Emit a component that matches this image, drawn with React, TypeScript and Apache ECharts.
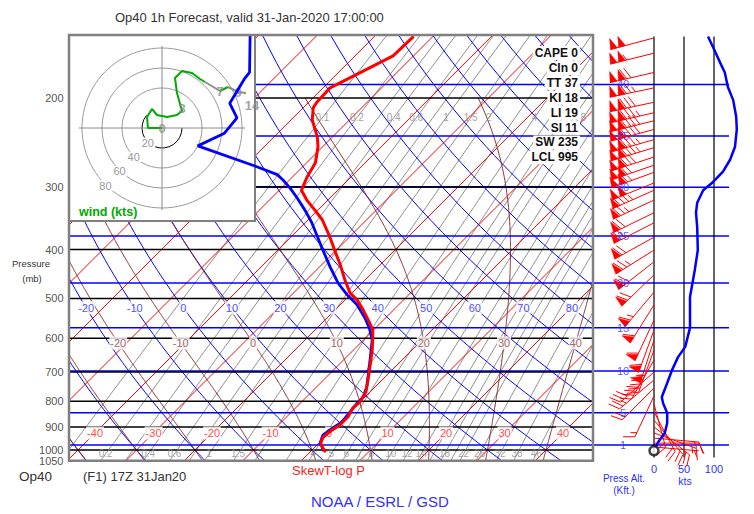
import React, { useEffect, useRef } from 'react';
import * as echarts from 'echarts';

const FONT = '"Liberation Sans", Arial, Helvetica, sans-serif';

// ---------------- sounding values ----------------
const tempP = [151,165,178,191,204,209,221,239,250,269,287,305,319,334,349,378,401,429,460,488,504,527,560,578,597,633,684,726,767,803,825,860,892,913,942,969,991,1009];
const tempC = [-53.3,-53.5,-56.2,-58.8,-58.6,-58.3,-56.4,-52.6,-50.8,-48.5,-47.5,-46.2,-43.6,-40.5,-37.6,-33.3,-30.3,-26.8,-23.4,-20.3,-17.9,-15.2,-11.8,-10.1,-8.9,-6.8,-4.3,-2.4,-0.7,0.0,-0.2,0.5,0.5,0.0,-0.3,0.3,1.5,2.7];
const dewP = [150,178,183,205,219,235,249,273,284,291,302,316,334,353,378,401,433,466,492,515,547,570,578,605,672,750,785,807,840,880,904,934,969,986,1005];
const dewC = [-81.5,-75.2,-75.0,-73.3,-69.6,-69.1,-71.5,-58.3,-53.0,-51.1,-48.5,-45.6,-42.2,-39.0,-35.4,-32.3,-28.2,-24.1,-20.5,-17.1,-13.5,-11.3,-10.6,-8.5,-5.0,-1.4,-0.3,-0.3,0.0,0.3,-0.2,-0.7,0.2,1.2,2.2];

// wind speed profile (kts)
const windSpdP = [151,162,170,178,190,202,218,231,250,265,280,294,305,323,338,361,401,439,497,572,624,654,694,736,785,807,844,884,925,964,991];
const windSpdKt = [90,102,110,118,123,132,137,138,135,127,115,98,82,72,70,72,73,68,60,60,52,40,30,22,13,15,22,22,18,7,2];

// wind barbs
const barbP = [152,163,178,191,204,214,222,231,242,251,262,272,281,295,305,319,338,354,378,401,423,449,486,515,552,578,605,633,663,700,726,753,781,810,840,872,900,925,947,969,986];
const barbDir = [255,256,257,258,258,257,256,255,254,253,252,251,250,248,246,245,244,243,241,238,232,226,220,212,205,200,198,200,210,228,230,225,205,165,152,140,128,110,95,90,95];
const barbKt = [100,105,118,125,132,136,138,138,137,135,128,120,113,98,84,75,70,72,72,73,72,68,63,62,60,58,54,46,38,29,24,19,14,16,21,22,21,17,13,8,4];
const calmP = [1003];

// hodograph (u, v in kts)
const hodoU = [0,-14,-15,-10,-5,5,15,20,15,13,20,30,38,43,58,66,76,85,90];
const hodoV = [0,0,11,19,13,11,13,17,35,50,57,55,49,46,37,41,36,35,28];
const hodoLabels = ['0','3','7','9','14'];
const hodoLabelIdx = [0,7,14,16,18];
const hodoRings = [40,60,80];
const hodoRingLabels = ['20','40','60','80'];

// indices
const indexTexts = ['CAPE 0','CIn 0','TT 37','KI 18','LI 19','SI 11','SW 235','LCL 995'];

// diagram reference lines
const pressureLines = [200,300,400,500,600,700,800,900,1000];
const pressureTicks = [200,300,400,500,600,700,800,900,1000,1050];
const altKft = [1,5,10,15,20,25,30,35,40];
const altP = [977,843,697,572,466,376,301,238,188];
const isotherms = [-110,-100,-90,-80,-70,-60,-50,-40,-30,-20,-10,0,10,20,30,40];
const isoLabels = [-40,-30,-20,-10,0,10,20,30,40];
const dryTheta = [-40,-30,-20,-10,0,10,20,30,40,50,60,70,80,90,100,110,120,130,140,150,160];
const dryLabels = [-20,-10,0,10,20,30,40,50,60,70,80];
const moistTw = [-40,-30,-20,-10,0,10,20,30,40];
const moistLabels = [-20,-10,0,10,20,30,40];
const mixW = [0.1,0.2,0.3,0.4,0.6,0.8,1,1.5,2,3,4,5,6,7,8,10,12,14,16,18,20,22,26,32,38,46];
const mixLabelsLow = [0.2,0.4,0.6,1,1.5,2,4,5,6,7,8,10,12,14,18,22,26,32,38,46];
const mixLabelsHigh = [0.1,0.2,0.4,0.6,1,1.5,2,4,8];

// ---------------- thermodynamics for the diagram background ----------------
const PX_PER_C = 5.85;
const PX_PER_LN = 218.7;
const K = PX_PER_LN / PX_PER_C;
const skewX = (t: number, p: number) => t + K * Math.log(1000 / p);
const es = (tc: number) => 6.112 * Math.exp((17.67 * tc) / (tc + 243.5));
const tdFromW = (w: number, p: number) => {
  const e = (w * p) / (622 + w);
  const l = Math.log(e / 6.112);
  return (243.5 * l) / (17.67 - l);
};
const tFromTheta = (th: number, p: number) => (th + 273.15) * Math.pow(p / 1000, 0.2857) - 273.15;
const RD = 287.04, CP = 1005.7, LV = 2.501e6, EPS = 0.622;
function dTdp(T: number, p: number) {
  const e = es(T - 273.15);
  const rs = (EPS * e) / (p - e);
  return (RD * T + LV * rs) / (p * (CP + (LV * LV * rs * EPS) / (RD * T * T)));
}
function moistPath(tw: number, pEnd: number, step: number): [number, number][] {
  const out: [number, number][] = [[tw, 1000]];
  let T = tw + 273.15;
  let p = 1000;
  const h = pEnd < 1000 ? -step : step;
  const n = Math.round(Math.abs(pEnd - 1000) / step);
  for (let i = 0; i < n; i++) {
    const k1 = dTdp(T, p);
    const k2 = dTdp(T + 0.5 * h * k1, p + 0.5 * h);
    const k3 = dTdp(T + 0.5 * h * k2, p + 0.5 * h);
    const k4 = dTdp(T + h * k3, p + h);
    T += (h * (k1 + 2 * k2 + 2 * k3 + k4)) / 6;
    p += h;
    out.push([T - 273.15, p]);
  }
  return out;
}

function buildOption() {
  const xMin = (69 - 312) / PX_PER_C;
  const xMax = (593 - 312) / PX_PER_C;
  const levels: number[] = [];
  for (let p = 1050; p >= 150; p -= 10) levels.push(p);

  const series: any[] = [];
  const ln = (color: string, width: number, data: any[], z: number, gi = 0, extra: any = {}) =>
    series.push({
      type: 'line', xAxisIndex: gi, yAxisIndex: gi, data, symbol: 'none', showSymbol: false,
      silent: true, lineStyle: { color, width }, z, animation: false, ...extra,
    });
  const lbl = (data: any[], gi: number, color: string, fontSize: number, z: number, extra: any = {}) =>
    series.push({
      type: 'scatter', xAxisIndex: gi, yAxisIndex: gi, data, symbolSize: 1, silent: true,
      itemStyle: { color: 'rgba(0,0,0,0)' }, z, clip: false, animation: false,
      label: { show: true, position: 'inside', formatter: (q: any) => q.data[2], color, fontSize, fontFamily: FONT, ...extra },
    });

  // mixing ratio lines
  mixW.forEach((w) => ln('#8f8f8f', 1, levels.map((p) => [skewX(tdFromW(w, p), p), p]), 1));
  // isotherms
  isotherms.forEach((t) => ln('#ff0000', 1, [[skewX(t, 1050), 1050], [skewX(t, 150), 150]], 2));
  // dry adiabats
  dryTheta.forEach((th) => ln('#0000ff', 1, levels.map((p) => [skewX(tFromTheta(th, p), p), p]), 2));
  // moist adiabats
  moistTw.forEach((tw) => {
    const up = moistPath(tw, 200, 2);
    const down = moistPath(tw, 1050, 2).slice(1).reverse();
    const pts = [...down, ...up].map(([t, p]) => [skewX(t, p), p]);
    ln('#8b2a2a', 1, pts, 2);
  });
  // altitude lines (across the main plot and the wind panel)
  altP.forEach((p) => ln('#0000ff', 1.5, [[0, p], [1, p]], 3, 1));
  // pressure lines
  pressureLines.forEach((p) => ln('#000000', 1.5, [[xMin, p], [xMax, p]], 3));

  // labels on the diagram lines
  lbl(isoLabels.map((t) => [skewX(t, 925), 925, String(t)]), 0, '#ff2020', 11, 4,
    { backgroundColor: '#fff', padding: [1, 1] });
  lbl(dryLabels.map((th) => [skewX(tFromTheta(th, 522), 522), 522, String(th)]), 0, '#2020ff', 11, 4,
    { backgroundColor: '#fff', padding: [1, 1] });
  lbl(moistLabels.map((tw) => {
    const path = moistPath(tw, 613, 1);
    const t = path[path.length - 1][0];
    return [skewX(t, 613), 613, String(tw)];
  }), 0, '#8b3a3a', 11, 4, { backgroundColor: '#fff', padding: [1, 1] });
  lbl(mixLabelsLow.map((w) => [skewX(tdFromW(w, 1018), 1018), 1018, String(w)]), 0, '#8a8a8a', 10, 4);
  lbl(mixLabelsHigh.map((w) => [skewX(tdFromW(w, 219), 219), 219, String(w)]), 0, '#8a8a8a', 10, 4);
  // pressure tick labels
  series.push({
    type: 'scatter', xAxisIndex: 0, yAxisIndex: 0, symbolSize: 1, silent: true, clip: false, z: 4,
    itemStyle: { color: 'rgba(0,0,0,0)' },
    data: pressureTicks.map((p) => [xMin, p, String(p)]),
    label: { show: true, position: 'left', distance: 5, formatter: (q: any) => q.data[2], color: '#222', fontSize: 11, fontFamily: FONT },
  });
  // altitude labels
  lbl(altKft.map((k, i) => [(623 - 69) / 660, altP[i], String(k)]), 1, '#3030ff', 11, 12);

  // sounding
  ln('#0000ff', 2.8, dewP.map((p, i) => [skewX(dewC[i], p), p]), 9);
  ln('#ff0000', 3, tempP.map((p, i) => [skewX(tempC[i], p), p]), 10);

  // wind panel
  [0, 50, 100].forEach((v) => ln('#000000', 1.2, [[v, 151], [v, 1035]], 3, 2));
  series.push({
    type: 'custom', xAxisIndex: 2, yAxisIndex: 2, silent: true, z: 6, clip: false,
    encode: { x: 0, y: 1 },
    data: barbP.map((p, i) => [0, p, barbKt[i], barbDir[i]]),
    renderItem: (_params: any, api: any) => {
      const p = api.value(1), spd = api.value(2), dir = api.value(3);
      const b = api.coord([0, p]);
      const bx = b[0], by = b[1];
      const r = (dir * Math.PI) / 180;
      const sx = Math.sin(r), sy = -Math.cos(r);
      const nx = -sy, ny = sx;
      const fx = nx * 0.9 + sx * 0.42, fy = ny * 0.9 + sy * 0.42;
      const L = 45, FL = 12, PW = 7, GAP = 4.5;
      const tx = bx + sx * L, ty = by + sy * L;
      const style = { stroke: '#ff0000', lineWidth: 1 };
      const ch: any[] = [{ type: 'line', shape: { x1: bx, y1: by, x2: tx, y2: ty }, style }];
      let rem = Math.round(spd / 5) * 5;
      let pos = 0;
      while (rem >= 50) {
        const ax = tx - sx * pos, ay = ty - sy * pos;
        const cx = tx - sx * (pos + PW), cy = ty - sy * (pos + PW);
        ch.push({ type: 'polygon', shape: { points: [[ax, ay], [cx, cy], [cx + fx * FL, cy + fy * FL]] },
          style: { fill: '#ff0000', stroke: '#ff0000', lineWidth: 0.5 } });
        pos += PW + 1.5;
        rem -= 50;
      }
      while (rem >= 10) {
        const ax = tx - sx * pos, ay = ty - sy * pos;
        ch.push({ type: 'line', shape: { x1: ax, y1: ay, x2: ax + fx * FL, y2: ay + fy * FL }, style });
        pos += GAP;
        rem -= 10;
      }
      if (rem >= 5) {
        if (pos === 0) pos = GAP;
        const ax = tx - sx * pos, ay = ty - sy * pos;
        ch.push({ type: 'line', shape: { x1: ax, y1: ay, x2: ax + fx * FL * 0.55, y2: ay + fy * FL * 0.55 }, style });
      }
      return { type: 'group', children: ch };
    },
  });
  ln('#0000ff', 2.5, windSpdP.map((p, i) => [windSpdKt[i], p]), 8, 2, { clip: false });
  series.push({
    type: 'scatter', xAxisIndex: 2, yAxisIndex: 2, silent: true, z: 9, clip: false,
    data: calmP.map((p) => [0, p]), symbol: 'circle', symbolSize: 9,
    itemStyle: { color: '#fff', borderColor: '#111', borderWidth: 2.5 },
  });

  // hodograph
  const hodo = hodoU.map((u, i) => [u, hodoV[i]]);
  ln('#00aa00', 2, hodo.slice(0, 14), 7, 3, { clip: false });
  ln('#8c8c8c', 2, hodo.slice(13, 15), 7, 3, { clip: false });
  ln('#00aa00', 2, hodo.slice(14, 16), 7, 3, { clip: false });
  ln('#8c8c8c', 2, hodo.slice(15), 7, 3, { clip: false });
  series.push({
    type: 'scatter', xAxisIndex: 3, yAxisIndex: 3, symbolSize: 1, silent: true, clip: false, z: 8,
    itemStyle: { color: 'rgba(0,0,0,0)' },
    data: hodoLabelIdx.map((k, i) => [hodoU[k], hodoV[k], hodoLabels[i]]),
    label: {
      show: true, position: 'inside', formatter: (q: any) => q.data[2], color: '#8a8a8a', fontSize: 13,
      fontWeight: 'bold', fontFamily: FONT,
    },
    labelLayout: (params: any) => (params.dataIndex === 4 ? { dy: 5 } : params.dataIndex === 1 ? { dy: -3 } : {}),
  });

  const HCX = 162, HCY = 128;
  const graphic: any[] = [
    { type: 'rect', z: 5, shape: { x: 69, y: 35, width: 186, height: 186 }, style: { fill: '#fff', stroke: '#808080', lineWidth: 2 } },
    ...hodoRings.map((r) => ({ type: 'circle', z: 6, shape: { cx: HCX, cy: HCY, r }, style: { fill: 'none', stroke: '#9a9a9a', lineWidth: 1 } })),
    { type: 'arc', z: 6, shape: { cx: HCX, cy: HCY, r: 20, startAngle: 0, endAngle: (219 * Math.PI) / 180, clockwise: true }, style: { fill: 'none', stroke: '#000', lineWidth: 1 } },
    { type: 'line', z: 6, shape: { x1: HCX - 83, y1: HCY, x2: HCX + 83, y2: HCY }, style: { stroke: '#8a8a8a', lineWidth: 1 } },
    { type: 'line', z: 6, shape: { x1: HCX, y1: HCY - 82, x2: HCX, y2: HCY + 82 }, style: { stroke: '#8a8a8a', lineWidth: 1 } },
    ...hodoRingLabels.map((t, i) => {
      const r = 20 * (i + 1);
      return {
        type: 'text', z: 6,
        style: { text: t, x: HCX - r * 0.707, y: HCY + r * 0.707 + 1, align: 'center', verticalAlign: 'middle', textAlign: 'center', textVerticalAlign: 'middle',
          fontSize: 11, fontFamily: FONT, fill: '#999', backgroundColor: '#fff', padding: [0, 1] },
      };
    }),
    { type: 'text', z: 6, style: { text: 'wind (kts)', x: 79, y: 212, align: 'left', verticalAlign: 'middle', textAlign: 'left', textVerticalAlign: 'middle',
      fontSize: 12.5, fontWeight: 'bold', fontFamily: FONT, fill: '#00aa00' } },
    { type: 'rect', z: 12, shape: { x: 69, y: 35, width: 524, height: 425.7 }, style: { fill: 'none', stroke: '#808080', lineWidth: 2.5 } },
    ...indexTexts.map((t, i) => ({
      type: 'text', z: 13,
      style: { text: t, x: 580, y: 53 + i * 14.9, align: 'right', verticalAlign: 'middle', textAlign: 'right', textVerticalAlign: 'middle',
        fontSize: 12, fontWeight: 'bold', fontFamily: FONT, fill: '#111', backgroundColor: '#fff', padding: [1, 2] },
    })),
    { type: 'text', z: 13, style: { text: 'Op40 1h Forecast, valid 31-Jan-2020 17:00:00', x: 115, y: 17, align: 'left', verticalAlign: 'middle', textAlign: 'left', textVerticalAlign: 'middle', fontSize: 13, fontFamily: FONT, fill: '#333' } },
    { type: 'text', z: 13, style: { text: 'Pressure', x: 31, y: 263, align: 'center', verticalAlign: 'middle', textAlign: 'center', textVerticalAlign: 'middle', fontSize: 9.5, fontFamily: FONT, fill: '#333' } },
    { type: 'text', z: 13, style: { text: '(mb)', x: 32, y: 278, align: 'center', verticalAlign: 'middle', textAlign: 'center', textVerticalAlign: 'middle', fontSize: 9.5, fontFamily: FONT, fill: '#333' } },
    { type: 'text', z: 13, style: { text: 'Op40', x: 19, y: 476, align: 'left', verticalAlign: 'middle', textAlign: 'left', textVerticalAlign: 'middle', fontSize: 13.5, fontFamily: FONT, fill: '#333' } },
    { type: 'text', z: 13, style: { text: '(F1) 17Z 31Jan20', x: 83, y: 476, align: 'left', verticalAlign: 'middle', textAlign: 'left', textVerticalAlign: 'middle', fontSize: 13, fontFamily: FONT, fill: '#333' } },
    { type: 'text', z: 13, style: { text: 'SkewT-log P', x: 292, y: 470, align: 'left', verticalAlign: 'middle', textAlign: 'left', textVerticalAlign: 'middle', fontSize: 13, fontFamily: FONT, fill: '#ff2020' } },
    { type: 'text', z: 13, style: { text: 'NOAA / ESRL / GSD', x: 311, y: 501, align: 'left', verticalAlign: 'middle', textAlign: 'left', textVerticalAlign: 'middle', fontSize: 15, fontFamily: FONT, fill: '#3030ff' } },
    { type: 'text', z: 13, style: { text: 'Press Alt.', x: 624, y: 478, align: 'center', verticalAlign: 'middle', textAlign: 'center', textVerticalAlign: 'middle', fontSize: 10, fontFamily: FONT, fill: '#3030ff' } },
    { type: 'text', z: 13, style: { text: '(Kft.)', x: 624, y: 490, align: 'center', verticalAlign: 'middle', textAlign: 'center', textVerticalAlign: 'middle', fontSize: 10, fontFamily: FONT, fill: '#3030ff' } },
    { type: 'text', z: 13, style: { text: 'kts', x: 685, y: 481, align: 'center', verticalAlign: 'middle', textAlign: 'center', textVerticalAlign: 'middle', fontSize: 10.5, fontFamily: FONT, fill: '#3030ff' } },
  ];

  const logY = (gi: number) => ({ gridIndex: gi, type: 'log', logBase: 10, min: 150, max: 1050, inverse: true, show: false });

  return {
    animation: false,
    backgroundColor: '#ffffff',
    grid: [
      { left: 69, top: 35, width: 524, height: 425.7 },
      { left: 69, top: 35, width: 660, height: 425.7 },
      { left: 654, top: 35, width: 100, height: 425.7 },
      { left: 79, top: 45, width: 166, height: 166 },
    ],
    xAxis: [
      { gridIndex: 0, type: 'value', min: xMin, max: xMax, show: false },
      { gridIndex: 1, type: 'value', min: 0, max: 1, show: false },
      {
        gridIndex: 2, type: 'value', min: 0, max: 100 / 0.6, interval: 50, show: true,
        axisLine: { show: false }, axisTick: { show: false }, splitLine: { show: false },
        axisLabel: { show: true, margin: 3, color: '#3030ff', fontSize: 11, fontFamily: FONT, showMinLabel: true, showMaxLabel: false,
          formatter: (v: number) => (v <= 100 ? String(v) : '') },
      },
      { gridIndex: 3, type: 'value', min: -83, max: 83, show: false },
    ],
    yAxis: [logY(0), logY(1), logY(2), { gridIndex: 3, type: 'value', min: -83, max: 83, show: false }],
    graphic,
    series,
  };
}

export default function App() {
  const ref = useRef<HTMLDivElement>(null);
  useEffect(() => {
    if (!ref.current) return;
    const chart = echarts.init(ref.current, undefined, { renderer: 'svg' });
    chart.setOption(buildOption() as any);
    return () => chart.dispose();
  }, []);
  return (
    <div
      ref={ref}
      style={{ position: 'absolute', left: 0, top: 0, width: 754, height: 514, background: '#fff' }}
    />
  );
}
